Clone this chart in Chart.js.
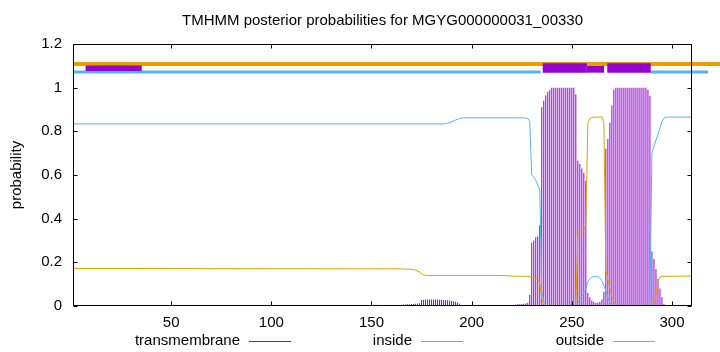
<!DOCTYPE html>
<html><head><meta charset="utf-8">
<script src="https://cdn.jsdelivr.net/npm/chart.js@4/dist/chart.umd.min.js"></script>
<style>html,body{margin:0;padding:0;background:#fff;overflow:hidden}canvas{display:block}</style>
</head><body>
<canvas id="c" width="720" height="352"></canvas>
<script>
// ---- data ----
const titleText = "TMHMM posterior probabilities for MGYG000000031_00330";
const yTitle = "probability";
const seriesNames = ["transmembrane", "inside", "outside"];
const xTicks = [50, 100, 150, 200, 250, 300];
const yTicks = [0, 0.2, 0.4, 0.6, 0.8, 1, 1.2];
const xMin = 1, xMax = 310;

// transmembrane posterior per residue, starting at residue tmStart (earlier residues ~0)
const tmStart = 160;
const tmProb = [
  0,0,0,0,0,
  0.006,0.007,0.007,0.008,0.008,0.009,0.009,0.010,0.011,0.013,
  0.027,0.029,0.030,0.030,0.030,0.030,0.030,0.030,0.030,0.029,0.029,0.028,0.027,
  0.026,0.025,0.024,0.022,0.020,0.016,0.010,0.005,
  0.003,0.003,0.003,0.003,0.003,0.003,0.003,0.003,0.003,0.003,0.003,0.003,0.003,0.003,0.003,0.003,0.003,0.003,0.003,0.003,0.003,0.003,0.003,0.003,0.003,
  0.006,0.007,0.008,0.008,0.009,0.010,0.012,0.015,
  0.05,
  0.29,0.30,0.315,0.32,0.37,
  0.91,0.94,0.965,0.98,0.99,
  1,1,1,1,1,1,1,1,1,1,1,1,
  0.97,
  0.666,0.65,0.63,0.61,0.574,
  0.06,0.04,0.025,0.018,0.014,0.015,0.02,0.03,0.065,
  0.72,0.765,0.84,0.918,0.99,
  1,1,1,1,1,1,1,1,1,1,1,1,1,1,1,1,
  0.99,0.963,
  0.25,0.215,0.17,0.124,0.08,0.04,
  0.01,0.005,0,0,0
];

// inside posterior (residue, value) read at the curve's corners
const insideX = [1,186,188,190,192,194,196,226,227,228,229,230,231,232,233,234,235,236,237,238,251,252,253,254,255,256,257,258,259,260,261,262,263,264,265,266,267,268,269,270,271,288,289,290,291,292,293,294,295,296,297,310];
const insideY = [0.834,0.834,0.837,0.843,0.852,0.859,0.862,0.862,0.861,0.86,0.845,0.60,0.59,0.575,0.555,0.53,0.065,0.02,0.005,0,0,0.005,0.015,0.03,0.045,0.06,0.08,0.11,0.125,0.133,0.136,0.136,0.133,0.128,0.115,0.095,0.07,0.04,0.015,0.003,0,0,0.02,0.70,0.73,0.76,0.785,0.815,0.845,0.86,0.865,0.865];

// outside posterior
const outsideX = [1,165,170,172,174,176,178,215,220,228,230,232,233,234,235,236,237,252,253,254,255,256,257,258,259,260,265,266,267,268,269,270,271,272,273,290,291,292,293,294,295,310];
const outsideY = [0.172,0.170,0.168,0.165,0.155,0.142,0.14,0.14,0.137,0.136,0.133,0.125,0.12,0.105,0.035,0.008,0,0,0.32,0.335,0.34,0.35,0.37,0.84,0.858,0.864,0.866,0.84,0.16,0.12,0.08,0.045,0.02,0.005,0,0,0.01,0.05,0.11,0.132,0.136,0.137];

// predicted topology strip (residue ranges)
const topoOutside = [[1, 324]];
const topoInside = [[1, 234.5], [289.4, 318]];
const topoHelixWide = [[235.5, 257.5], [267.7, 289.4]];
const topoHelixStep = [[257.5, 266.1]];
const topoHelixSmall = [[7.3, 35.3]];

// ---- styling / layout ----
const C_TM = "#9400D3", C_IN = "#56B4E9", C_OUT = "#E69F00";
const LV_OUT = 1.108, LV_IN = 1.072, LV_HW = 1.090, LV_HS = 1.084, LV_SM = 1.089;
const FONT = "'Liberation Sans', Arial, sans-serif";
const FS = 15;

function pts(xs, ys) { return xs.map((x, i) => ({x, y: ys[i]})); }
function segs(ranges, lv) {
  const out = [];
  ranges.forEach((r, i) => {
    if (i > 0) out.push({x: (ranges[i-1][1] + r[0]) / 2, y: null});
    out.push({x: r[0], y: lv}, {x: r[1], y: lv});
  });
  return out;
}
const lineBase = {type: 'line', pointRadius: 0, tension: 0, spanGaps: false, borderCapStyle: 'butt'};

const framePlugin = {
  id: 'frame',
  afterDraw(chart) {
    const {ctx, chartArea: a, scales} = chart;
    ctx.save();
    ctx.strokeStyle = '#000';
    ctx.lineWidth = 1;
    const L = Math.round(a.left) + 0.5, R = Math.round(a.right) - 0.5, T = Math.round(a.top) + 0.5, B = Math.round(a.bottom) - 0.5;
    ctx.beginPath();
    const tl = 4;
    xTicks.forEach(v => {
      const px = Math.round(scales.x.getPixelForValue(v)) + 0.5;
      ctx.moveTo(px, B); ctx.lineTo(px, B - tl);
      ctx.moveTo(px, T); ctx.lineTo(px, T + tl);
    });
    yTicks.forEach(v => {
      const py = Math.round(scales.y.getPixelForValue(v)) + 0.5;
      ctx.moveTo(L, py); ctx.lineTo(L + tl, py);
      ctx.moveTo(R, py); ctx.lineTo(R - tl, py);
    });
    ctx.stroke();
    ctx.beginPath();
    ctx.rect(L, T, R - L, B - T);
    ctx.stroke();
    // title
    ctx.fillStyle = '#000';
    ctx.font = FS + "px " + FONT;
    ctx.textAlign = 'center';
    ctx.textBaseline = 'middle';
    ctx.fillText(titleText, (a.left + a.right) / 2, 21);
    // legend
    const ends = [240, 412, 604];
    const cols = [C_TM, C_IN, C_OUT];
    ctx.textAlign = 'right';
    seriesNames.forEach((n, i) => {
      ctx.fillStyle = '#000';
      ctx.fillText(n, ends[i], 341);
      ctx.strokeStyle = cols[i];
      ctx.beginPath();
      ctx.moveTo(ends[i] + 9, 341.5);
      ctx.lineTo(ends[i] + 51, 341.5);
      ctx.stroke();
    });
    ctx.restore();
  }
};

Chart.defaults.font.family = FONT;
Chart.defaults.font.size = FS;
Chart.defaults.color = '#000';

new Chart(document.getElementById('c'), {
  type: 'bar',
  data: {
    datasets: [
      {...lineBase, label: 'helixWide', data: segs(topoHelixWide, LV_HW), borderColor: C_TM, borderWidth: 9.4, clip: false, order: 0},
      {...lineBase, label: 'helixStep', data: segs(topoHelixStep, LV_HS), borderColor: C_TM, borderWidth: 6.7, clip: false, order: 1},
      {...lineBase, label: 'helixSmall', data: segs(topoHelixSmall, LV_SM), borderColor: C_TM, borderWidth: 5.3, clip: false, order: 2},
      {...lineBase, label: 'topoOut', data: segs(topoOutside, LV_OUT), borderColor: C_OUT, borderWidth: 4, clip: false, order: 3},
      {...lineBase, label: 'topoIn', data: segs(topoInside, LV_IN), borderColor: C_IN, borderWidth: 3, clip: false, order: 4},
      {...lineBase, label: seriesNames[2], data: pts(outsideX, outsideY), borderColor: C_OUT, borderWidth: 1, order: 5},
      {...lineBase, label: seriesNames[1], data: pts(insideX, insideY), borderColor: C_IN, borderWidth: 1, order: 6},
      {type: 'bar', label: seriesNames[0], data: tmProb.map((v, i) => ({x: tmStart + i, y: v})),
       backgroundColor: C_TM, borderWidth: 0, barThickness: 1, inflateAmount: 0, order: 7}
    ]
  },
  options: {
    responsive: false,
    animation: false,
    events: [],
    layout: {padding: {top: 44, right: 28, bottom: 0, left: 0}},
    plugins: {legend: {display: false}, title: {display: false}, tooltip: {enabled: false}},
    scales: {
      x: {
        type: 'linear', min: xMin, max: xMax, offset: false,
        grid: {display: false, drawTicks: false},
        border: {display: false},
        afterBuildTicks: s => { s.ticks = xTicks.map(v => ({value: v})); },
        ticks: {padding: 8, maxRotation: 0, autoSkip: false, callback: v => String(v)},
        afterFit: s => { s.height = 46; }
      },
      y: {
        type: 'linear', min: 0, max: 1.2,
        grid: {display: false, drawTicks: false},
        border: {display: false},
        afterBuildTicks: s => { s.ticks = yTicks.map(v => ({value: v})); },
        ticks: {padding: 11, autoSkip: false, callback: v => String(Math.round(v * 10) / 10)},
        title: {display: true, text: yTitle, padding: {top: 8, bottom: 0}, font: {size: FS}},
        afterFit: s => { s.width = 73; }
      }
    }
  },
  plugins: [framePlugin]
});
</script>
</body></html>
